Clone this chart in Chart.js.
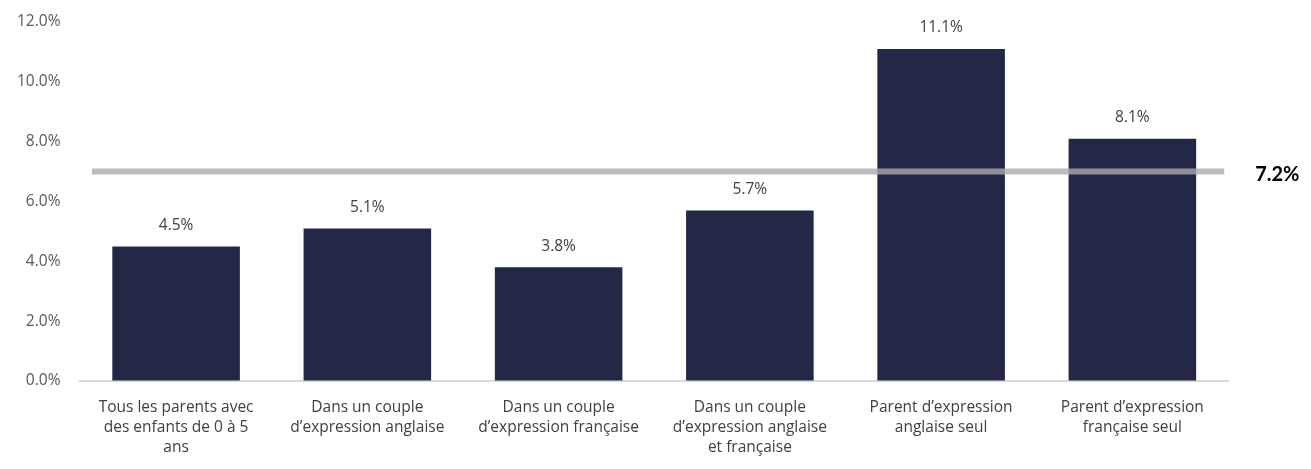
<!DOCTYPE html>
<html>
<head>
<meta charset="utf-8">
<script src="https://cdn.jsdelivr.net/npm/chart.js@4/dist/chart.umd.min.js"></script>
<style>
  html, body { margin: 0; padding: 0; background: #fff; }
  #wrap { width: 1311px; height: 469px; }
</style>
</head>
<body>
<div id="wrap"><canvas id="chart" width="1311" height="469"></canvas></div>
<script>
// Categories (multi-line labels)
const categories = [
  ["Tous les parents avec", "des enfants de 0 à 5", "ans"],
  ["Dans un couple", "d’expression anglaise"],
  ["Dans un couple", "d’expression française"],
  ["Dans un couple", "d’expression anglaise", "et française"],
  ["Parent d’expression", "anglaise seul"],
  ["Parent d’expression", "française seul"]
];
// Share of parents (%)
const values = [4.5, 5.1, 3.8, 5.7, 11.1, 8.1];
// Reference line: drawn level and its label
const refLevel = 7.0;
const refLabel = "7.2%";
const refSpan = [-0.44, 5.48];
const yTicks = [0, 2, 4, 6, 8, 10, 12];

const fontFamily = "'Open Sans', Lato, sans-serif";

// draws value labels above bars and the reference label
const labelPlugin = {
  id: "labels",
  afterDatasetsDraw(chart) {
    const ctx = chart.ctx;
    const barMeta = chart.getDatasetMeta(0);
    ctx.save();
    ctx.font = "15.5px " + fontFamily;
    ctx.fillStyle = "#404040";
    ctx.textAlign = "center";
    ctx.textBaseline = "middle";
    barMeta.data.forEach((bar, i) => {
      ctx.fillText(values[i].toFixed(1) + "%", bar.x, bar.y - 21);
    });
    const lineMeta = chart.getDatasetMeta(1);
    const last = lineMeta.data[lineMeta.data.length - 1];
    ctx.font = "bold 20px Lato, sans-serif";
    ctx.fillStyle = "#000";
    ctx.textAlign = "left";
    ctx.fillText(refLabel, last.x + 31, last.y + 3);
    ctx.restore();
  }
};

new Chart(document.getElementById("chart"), {
  type: "bar",
  data: {
    labels: categories,
    datasets: [
      {
        type: "bar",
        data: values,
        backgroundColor: "#232846",
        barPercentage: 0.667,
        categoryPercentage: 1,
        grouped: false,
        order: 2
      },
      {
        type: "line",
        xAxisID: "x2",
        data: refSpan.map(x => ({ x: x, y: refLevel })),
        borderColor: "rgba(170,170,170,0.8)",
        borderWidth: 6,
        pointRadius: 0,
        borderCapStyle: "butt",
        order: 1
      }
    ]
  },
  options: {
    responsive: false,
    animation: false,
    layout: { autoPadding: false, padding: { left: 17, right: 83, top: 22, bottom: -6 } },
    plugins: {
      legend: { display: false },
      tooltip: { enabled: false }
    },
    scales: {
      x: {
        grid: { display: false, drawTicks: false },
        border: { color: "#d9d9d9", width: 2 },
        ticks: {
          color: "#404040",
          font: { family: fontFamily, size: 15.5, lineHeight: 1.29 },
          padding: 17,
          maxRotation: 0,
          autoSkip: false
        }
      },
      x2: {
        type: "linear",
        display: false,
        offset: false,
        min: -0.5,
        max: 5.5
      },
      y: {
        min: 0,
        max: 12,
        afterBuildTicks: axis => { axis.ticks = yTicks.map(v => ({ value: v })); },
        grid: {
          display: true,
          drawOnChartArea: false,
          drawTicks: true,
          tickLength: 20,
          tickColor: "rgba(0,0,0,0)"
        },
        border: { display: false },
        ticks: {
          color: "#595959",
          font: { family: fontFamily, size: 15.5 },
          padding: 0,
          callback: v => v.toFixed(1) + "%"
        }
      }
    }
  },
  plugins: [labelPlugin]
});
</script>
</body>
</html>
